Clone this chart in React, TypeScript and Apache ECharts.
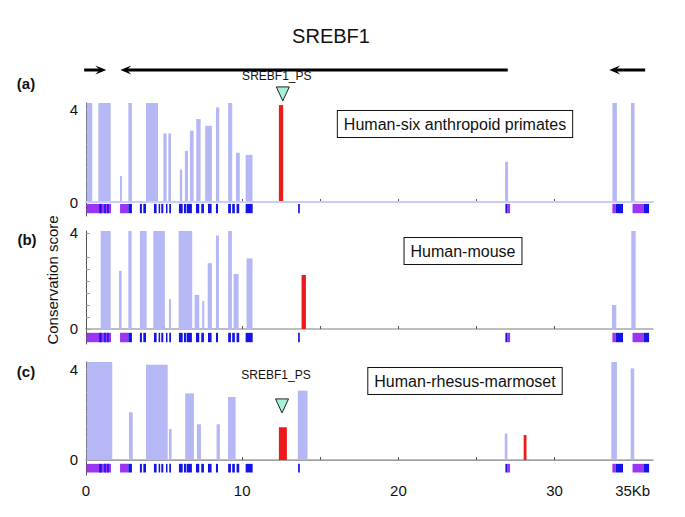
import React, { useEffect, useRef } from "react";
import * as echarts from "echarts";

// ---------- data (kb positions, conservation scores) ----------
const X_MAX = 36.3;
const xTickValues = [0, 5, 10, 15, 20, 25, 30, 35];
const xLabelValues = [0, 10, 20, 30, 35];
const yTickValues = [0, 0.5, 1, 1.5, 2, 2.5, 3, 4];
const yLabelValues = [0, 4];

// gene arrows: [from, to] (arrow head at "to")
const geneArrows = [
  [-0.12, 1.3],
  [27.0, 2.2],
  [35.8, 33.5],
];
const geneName = "SREBF1";

// exon track: UTR (purple) and coding (blue) blocks [start, end]
const exonUTR = [
  [0.04, 1.6], [2.18, 2.71], [26.98, 27.15], [33.7, 33.91], [34.99, 35.69],
];
const exonCDS = [
  [0.85, 1.0], [1.17, 1.26], [1.36, 1.45], [2.71, 2.94], [3.45, 3.58], [3.67, 3.84],
  [4.35, 4.52], [4.65, 4.73], [4.82, 4.95], [5.12, 5.2], [5.33, 5.44], [5.95, 6.19],
  [6.27, 6.4], [6.44, 6.78], [7.04, 7.25], [7.38, 7.55], [7.81, 8.04], [8.32, 8.45],
  [9.1, 9.28], [9.36, 9.53], [9.64, 9.81], [10.22, 10.67], [13.58, 13.69],
  [26.85, 26.98], [33.91, 34.38], [35.69, 36.05],
];

// conserved elements [start, end, score]
const primateBars = [
  [0.04, 0.4, 4.3], [0.79, 1.58, 4.3], [2.18, 2.3, 1.12], [2.71, 2.94, 4.3],
  [3.84, 4.61, 4.3], [4.95, 5.16, 2.95], [5.27, 5.44, 2.95], [6.01, 6.16, 1.4],
  [6.33, 6.53, 2.2], [6.65, 6.89, 3.07], [7.06, 7.34, 3.57], [7.63, 8.06, 3.28],
  [8.32, 8.53, 4.07], [9.1, 9.36, 4.3], [9.6, 9.85, 2.12], [10.22, 10.66, 2.03],
  [26.83, 27.02, 1.73], [33.7, 33.99, 4.3], [34.89, 35.12, 4.3],
];
const primatePS = [[12.35, 12.62, 4.17]];

const mouseBars = [
  [0.94, 1.58, 4.1], [2.11, 2.28, 2.42], [2.71, 2.92, 4.1], [3.45, 3.88, 4.1],
  [4.31, 5.05, 4.1], [5.31, 5.44, 1.24], [5.93, 6.8, 4.1], [6.95, 7.25, 1.42],
  [7.44, 7.57, 1.17], [7.79, 8.06, 2.74], [8.32, 8.51, 3.89], [9.1, 9.34, 4.1],
  [9.45, 9.77, 2.29], [10.28, 10.66, 2.94], [33.67, 33.95, 1.0], [34.91, 35.19, 4.1],
];
const mousePS = [[13.8, 14.08, 2.25]];

const rmBars = [
  [0.04, 1.68, 4.31], [2.75, 2.99, 2.1], [3.84, 5.23, 4.19], [5.31, 5.48, 1.36],
  [6.35, 6.91, 2.93], [7.1, 7.36, 1.57], [8.36, 8.57, 1.57], [9.09, 9.58, 2.77],
  [13.56, 14.18, 3.05], [26.81, 26.98, 1.16], [33.63, 33.99, 4.31], [34.87, 35.1, 4.03],
];
const rmPS = [[12.35, 12.86, 1.44], [28.02, 28.2, 1.1]];

// pseudogene markers [position, tip score]
const primateMarker = [[12.6, 4.35]];
const rmMarker = [[12.55, 2.07]];
const markerLabel = "SREBF1_PS";

const panelTitles = ["Human-six anthropoid primates", "Human-mouse", "Human-rhesus-marmoset"];
const panelLetters = ["(a)", "(b)", "(c)"];
const yName = "Conservation score";

// ---------- styling / layout ----------
const FONT = "'Liberation Sans', Arial, Helvetica, sans-serif";
const C_BAR = "#b5b8f5";
const C_RED = "#ee1a1a";
const C_UTR = "#9b35f2";
const C_CDS = "#1414e6";

const panels = [
  { top: 103, min: -0.6, max: 4.26, exon: [-0.08, -0.48], bars: primateBars, ps: primatePS, marker: primateMarker, labelGap: 25, base: "#c9ccf6", baseW: 2 },
  { top: 231, min: -0.625, max: 4.08, exon: [-0.16, -0.55], bars: mouseBars, ps: mousePS, marker: [], labelGap: 0, base: null, baseW: 0 },
  { top: 362, min: -0.66, max: 4.31, exon: [-0.17, -0.55], bars: rmBars, ps: rmPS, marker: rmMarker, labelGap: 38, base: "#a0a0a0", baseW: 1 },
];
const PANEL_H = 113;
const LEFT = 86;
const RIGHT = 32;

function rectItem(color: string) {
  return (params: any, api: any) => {
    const cs = params.coordSys;
    const p0 = api.coord([api.value(0), api.value(2)]);
    const p1 = api.coord([api.value(1), 0]);
    const top = Math.max(p0[1], cs.y);
    const w = Math.max(p1[0] - p0[0], 1.5);
    return {
      type: "rect",
      shape: { x: p0[0], y: top, width: w, height: p1[1] - top },
      style: { fill: color },
    };
  };
}

function exonItem(color: string, y0: number, y1: number) {
  return (_params: any, api: any) => {
    const a = api.coord([api.value(0), y0]);
    const b = api.coord([api.value(1), y1]);
    return {
      type: "rect",
      shape: { x: a[0], y: a[1], width: Math.max(b[0] - a[0], 1.5), height: b[1] - a[1] },
      style: { fill: color },
    };
  };
}

function markerItem(gap: number) {
  return (_params: any, api: any) => {
    const p = api.coord([api.value(0), api.value(1)]);
    return {
      type: "group",
      children: [
        {
          type: "polygon",
          shape: { points: [[p[0] - 6.5, p[1] - 14], [p[0] + 6.5, p[1] - 14], [p[0], p[1]]] },
          style: { fill: "#a6f0da", stroke: "#222", lineWidth: 1 },
        },
        {
          type: "text",
          x: p[0] - 6,
          y: p[1] - gap,
          style: { text: markerLabel, fontSize: 12, fontFamily: FONT, fill: "#111", align: "center", verticalAlign: "middle" },
        },
      ],
    };
  };
}

function arrowItem(_params: any, api: any) {
  const a = api.coord([api.value(0), 0.5]);
  const b = api.coord([api.value(1), 0.5]);
  const dir = b[0] > a[0] ? 1 : -1;
  const hl = 11;
  const hh = 4.5;
  return {
    type: "group",
    children: [
      {
        type: "line",
        shape: { x1: a[0], y1: a[1], x2: b[0] - dir * hl * 0.5, y2: b[1] },
        style: { stroke: "#000", lineWidth: 3 },
      },
      {
        type: "polygon",
        shape: { points: [[b[0], b[1]], [b[0] - dir * hl, b[1] - hh], [b[0] - dir * hl * 0.6, b[1]], [b[0] - dir * hl, b[1] + hh]] },
        style: { fill: "#000" },
      },
    ],
  };
}

export default function App() {
  const ref = useRef<HTMLDivElement>(null);

  useEffect(() => {
    if (!ref.current) return;
    const chart = echarts.init(ref.current, undefined, { renderer: "svg" });

    const grids: any[] = [];
    const xAxes: any[] = [];
    const yAxes: any[] = [];
    const series: any[] = [];

    panels.forEach((p, i) => {
      grids.push({ left: LEFT, right: RIGHT, top: p.top, height: PANEL_H });
      xAxes.push({
        gridIndex: i,
        type: "value",
        min: 0,
        max: X_MAX,
        axisLine: { show: true, lineStyle: { color: "#a8a8a8", width: 1.5 } },
        axisTick: { show: true, inside: true, length: 3, customValues: xTickValues, lineStyle: { color: "#555" } },
        axisLabel: {
          show: i === 2,
          customValues: xLabelValues,
          fontSize: 15,
          fontFamily: FONT,
          color: "#111",
          margin: 8,
          formatter: (v: number) => (v === 35 ? "35Kb" : String(v)),
        },
        splitLine: { show: false },
      });
      yAxes.push({
        gridIndex: i,
        type: "value",
        min: p.min,
        max: p.max,
        axisLine: { show: true, lineStyle: { color: "#555", width: 1 } },
        axisTick: { show: true, inside: true, length: 4, customValues: yTickValues, lineStyle: { color: "#999" } },
        axisLabel: { customValues: yLabelValues, fontSize: 15, fontFamily: FONT, color: "#111", margin: 8 },
        splitLine: { show: false },
      });
      series.push({
        type: "custom",
        xAxisIndex: i,
        yAxisIndex: i,
        renderItem: rectItem(C_BAR),
        encode: { x: [0, 1], y: 2 },
        data: p.bars,
        z: 2,
        markLine: p.base
          ? {
              silent: true,
              symbol: "none",
              label: { show: false },
              lineStyle: { color: p.base, width: p.baseW, type: "solid" },
              data: [{ yAxis: 0 }],
            }
          : undefined,
      });
      series.push({
        type: "custom",
        xAxisIndex: i,
        yAxisIndex: i,
        renderItem: rectItem(C_RED),
        encode: { x: [0, 1], y: 2 },
        data: p.ps,
        z: 3,
      });
      series.push({
        type: "custom",
        xAxisIndex: i,
        yAxisIndex: i,
        renderItem: exonItem(C_UTR, p.exon[0], p.exon[1]),
        encode: { x: [0, 1] },
        data: exonUTR,
        z: 3,
      });
      series.push({
        type: "custom",
        xAxisIndex: i,
        yAxisIndex: i,
        renderItem: exonItem(C_CDS, p.exon[0], p.exon[1]),
        encode: { x: [0, 1] },
        data: exonCDS,
        z: 4,
      });
      if (p.marker.length) {
        series.push({
          type: "custom",
          xAxisIndex: i,
          yAxisIndex: i,
          renderItem: markerItem(p.labelGap),
          encode: { x: 0, y: 1 },
          data: p.marker,
          clip: false,
          z: 5,
        });
      }
    });

    // gene track
    grids.push({ left: LEFT, right: RIGHT, top: 55, height: 30 });
    xAxes.push({ gridIndex: 3, type: "value", min: 0, max: X_MAX, show: false });
    yAxes.push({ gridIndex: 3, type: "value", min: 0, max: 1, show: false });
    series.push({
      type: "custom",
      xAxisIndex: 3,
      yAxisIndex: 3,
      renderItem: arrowItem,
      encode: { x: [0, 1] },
      data: geneArrows,
      clip: false,
    });

    const graphic: any[] = [
      {
        type: "text",
        x: 331,
        y: 36,
        style: { text: geneName, fontSize: 20, fontFamily: FONT, fill: "#111", align: "center", verticalAlign: "middle" },
      },
      {
        type: "text",
        x: 52,
        y: 280,
        rotation: Math.PI / 2,
        style: { text: yName, fontSize: 15, fontFamily: FONT, fill: "#111", align: "center", verticalAlign: "middle" },
      },
    ];
    const letterPos = [[26, 83], [27, 239], [26, 371]];
    panelLetters.forEach((t, i) => {
      graphic.push({
        type: "text",
        x: letterPos[i][0],
        y: letterPos[i][1],
        style: { text: t, fontSize: 15, fontWeight: "bold", fontFamily: FONT, fill: "#111", align: "center", verticalAlign: "middle" },
      });
    });
    const boxPos = [[455, 124], [463, 251], [465, 381]];
    panelTitles.forEach((t, i) => {
      graphic.push({
        type: "text",
        x: boxPos[i][0],
        y: boxPos[i][1],
        style: {
          text: t,
          fontSize: 16,
          fontFamily: FONT,
          fill: "#111",
          align: "center",
          verticalAlign: "middle",
          backgroundColor: "#fff",
          borderColor: "#111",
          borderWidth: 1,
          padding: [5, 6, 5, 6],
        },
        z: 10,
      });
    });

    chart.setOption({
      animation: false,
      backgroundColor: "#fff",
      grid: grids,
      xAxis: xAxes,
      yAxis: yAxes,
      series,
      graphic,
    });

    return () => chart.dispose();
  }, []);

  return <div ref={ref} style={{ width: 685, height: 517, position: "absolute", left: 0, top: 0 }} />;
}
